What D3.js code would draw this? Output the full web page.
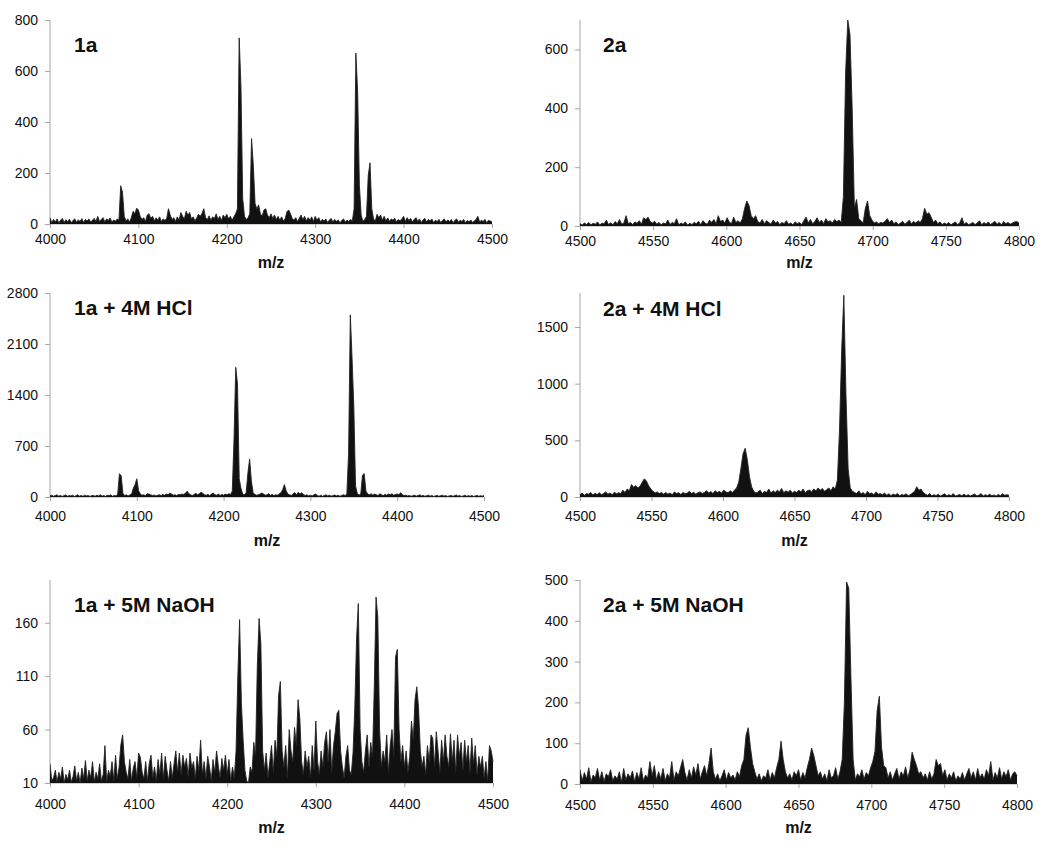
<!DOCTYPE html>
<html><head><meta charset="utf-8">
<script src="https://cdn.jsdelivr.net/npm/d3@7/dist/d3.min.js"></script>
<style>
body{margin:0;background:#fff}
text{font-family:"Liberation Sans",Arial,Helvetica,sans-serif;fill:#111}
</style>
</head><body>
<svg id="chart" width="1050" height="851"></svg>
<script>
// ---- data ----
// left column: m/z 4000..4500 sampled every 2; right column: m/z 4500..4800 sampled every 1.5
const leftStart = 4000, leftStep = 2;
const rightStart = 4500, rightStep = 1.5;
const leftXTicks = [4000, 4100, 4200, 4300, 4400, 4500];
const rightXTicks = [4500, 4550, 4600, 4650, 4700, 4750, 4800];
const ticks1a = [0, 200, 400, 600, 800];
const ticks2a = [0, 200, 400, 600];
const ticks1aHCl = [0, 700, 1400, 2100, 2800];
const ticks2aHCl = [0, 500, 1000, 1500];
const ticks1aNaOH = [10, 60, 110, 160];
const ticks2aNaOH = [0, 100, 200, 300, 400, 500];

const int1a = [
25,5,18,8,20,4,15,22,6,17,9,19,5,14,20,7,16,10,21,6,18,12,20,8,15,
22,10,30,9,18,25,8,20,14,24,7,16,11,20,15,150,125,30,12,20,8,25,50,40,62,
55,30,18,25,10,35,40,22,30,12,24,15,28,10,20,14,22,60,35,18,25,10,28,15,45,
30,20,50,35,45,20,28,12,25,38,30,42,60,25,18,32,15,28,22,40,18,30,14,35,25,
38,20,30,15,28,40,60,730,540,100,30,18,25,40,335,230,80,60,75,40,30,55,60,35,25,
40,22,35,18,30,15,28,12,20,48,55,40,22,15,25,10,22,35,18,30,12,25,15,28,10,
30,15,25,8,18,12,20,6,15,22,8,18,10,16,5,14,20,8,15,10,18,12,60,670,520,
150,35,10,18,30,190,240,60,20,12,38,25,35,15,30,12,24,10,20,15,22,8,18,12,20,
30,10,25,14,22,8,18,25,10,20,6,16,22,8,18,12,20,5,15,10,18,6,14,20,8,
16,10,18,5,14,20,7,15,10,18,4,14,9,16,6,12,18,30,8,15,10,18,5,14,12,
8];

const int1aHCl = [
15,25,10,20,30,12,22,8,18,28,10,20,14,25,8,18,30,12,22,10,25,15,20,8,18,
22,10,25,15,30,12,20,8,25,18,30,10,22,15,40,320,290,50,20,30,15,28,40,120,170,
250,90,40,25,30,20,45,40,30,20,28,15,25,30,20,35,25,40,30,55,40,25,30,20,35,
30,40,35,50,80,45,30,20,35,50,30,45,65,50,30,25,35,20,40,55,30,25,40,20,35,
25,40,30,45,35,80,800,1780,1550,250,120,40,30,60,330,520,220,60,35,25,30,40,55,40,25,
30,45,25,35,20,30,25,40,60,100,170,90,40,30,20,45,60,30,65,40,60,35,20,30,15,
25,15,30,40,20,12,25,10,20,30,15,25,12,20,28,15,25,10,22,30,20,40,600,2500,1900,
1250,150,50,25,40,300,320,80,40,30,45,25,40,30,20,45,30,20,35,25,40,30,45,25,35,
40,30,60,30,20,25,15,20,10,18,25,12,20,30,15,22,10,18,25,12,20,8,15,22,10,
18,25,12,20,8,15,22,10,18,28,12,20,8,15,25,10,18,12,20,8,15,22,10,18,12,
20];

const int1aNaOH = [
28,12,15,22,11,20,14,25,10,18,13,22,11,16,26,12,20,10,24,14,31,12,22,15,30,
11,20,14,28,12,18,45,11,22,16,30,12,36,14,25,46,55,30,20,14,32,12,24,30,15,
38,34,20,14,30,12,28,36,15,25,12,32,18,38,14,35,22,12,30,15,28,40,20,38,18,
36,25,33,16,38,24,30,14,35,22,50,18,30,14,35,25,12,32,20,40,26,15,33,22,36,
18,32,12,25,15,40,110,163,85,50,22,12,10,25,20,48,36,120,164,140,40,22,38,15,30,
45,20,50,35,92,105,40,25,45,15,60,40,30,62,45,88,70,30,18,40,25,35,15,45,22,
68,30,18,40,25,48,58,30,60,20,45,58,75,78,40,25,15,35,45,22,18,38,80,145,178,
60,30,20,40,55,25,48,35,100,184,165,60,25,40,30,55,20,45,60,35,128,135,60,30,45,
25,40,20,35,68,50,88,100,80,40,25,35,18,45,30,55,52,25,58,40,20,50,30,55,35,
25,56,30,50,20,55,35,48,22,50,30,45,20,52,28,45,18,35,25,35,15,30,12,45,40,
30];

const int2a = [
8,3,10,5,12,4,9,6,14,3,10,7,20,5,11,4,15,8,22,6,
10,35,8,12,5,14,9,18,6,28,22,30,15,10,16,6,12,4,10,7,
20,5,12,8,25,4,10,6,14,3,9,5,12,8,16,4,18,10,6,20,
12,22,8,35,15,20,10,28,14,8,30,12,18,10,25,60,85,70,35,25,
35,15,10,22,8,18,12,6,20,10,15,5,12,8,18,6,10,4,14,8,
12,5,18,30,10,22,8,15,28,12,20,8,25,14,18,10,22,15,20,12,
100,520,700,650,400,60,90,25,18,10,60,85,35,20,10,14,8,12,10,16,
25,12,20,8,14,5,10,16,6,12,20,8,15,10,18,12,25,60,40,45,
30,12,20,8,14,5,10,6,12,4,9,14,5,10,28,6,12,4,8,12,
5,10,18,4,12,6,14,5,10,16,6,12,4,15,8,12,6,10,14,15,
10];

const int2aHCl = [
20,35,15,30,25,40,18,32,22,38,20,30,45,25,35,20,42,28,38,30,
60,40,70,55,110,85,100,80,95,130,160,140,100,70,50,35,45,30,40,25,
40,25,35,20,45,30,38,22,40,28,35,50,30,42,25,38,45,30,40,55,
35,48,30,55,40,50,35,60,45,38,55,40,60,80,130,250,380,430,330,180,
90,50,35,45,60,30,50,40,70,35,55,40,60,45,75,38,55,42,60,35,
50,40,60,45,70,38,55,62,45,70,55,80,60,75,50,65,80,55,90,70,
150,600,1300,1780,900,250,80,50,40,30,55,25,40,20,50,30,35,20,45,25,
30,20,35,15,28,12,25,18,30,10,22,15,28,12,20,35,50,90,60,70,
40,25,15,30,10,20,12,25,8,18,28,10,20,12,30,8,15,22,10,25,
12,20,8,18,25,10,15,30,8,20,12,25,10,18,8,22,12,28,15,20,
15];

const int2aNaOH = [
35,8,28,12,40,5,22,15,38,10,30,6,25,18,35,8,20,12,30,5,
38,10,25,15,32,6,28,12,40,8,22,15,55,20,45,10,30,12,38,8,
25,15,55,10,30,20,40,60,28,10,35,15,42,22,50,12,30,45,20,50,
88,30,12,25,8,20,35,10,28,15,22,10,30,18,45,60,120,138,90,50,
30,12,25,8,20,15,35,10,28,15,40,60,105,60,30,15,25,10,30,20,
35,10,28,15,40,60,88,70,45,20,30,12,25,8,35,15,20,40,12,30,
60,200,495,480,260,60,10,25,18,35,12,28,20,40,55,80,180,215,90,45,
40,15,30,10,25,38,12,30,20,42,15,35,78,60,45,25,30,15,25,10,
30,12,25,60,45,50,20,35,10,25,15,30,8,20,12,28,10,25,38,15,
30,10,38,15,25,12,35,20,55,10,28,15,40,12,30,18,35,10,25,30,
20];

// ---- layout ----
const panels = [
  {label:"1a", data:int1a, start:leftStart, step:leftStep, xDom:[4000,4500], xTicks:leftXTicks,
   yDom:[0,800], yTicks:ticks1a, x0:50, x1:492, y0:20, y1:224, tickDy:17, mzY:268, labelX:74, labelY:52},
  {label:"2a", data:int2a, start:rightStart, step:rightStep, xDom:[4500,4800], xTicks:rightXTicks,
   yDom:[0,700], yTicks:ticks2a, x0:580, x1:1019, y0:20, y1:226, tickDy:17, mzY:268, labelX:603, labelY:52},
  {label:"1a + 4M HCl", data:int1aHCl, start:leftStart, step:leftStep, xDom:[4000,4500], xTicks:leftXTicks,
   yDom:[0,2800], yTicks:ticks1aHCl, x0:50, x1:484, y0:293, y1:497, tickDy:21, mzY:546, labelX:74, labelY:315},
  {label:"2a + 4M HCl", data:int2aHCl, start:rightStart, step:rightStep, xDom:[4500,4800], xTicks:rightXTicks,
   yDom:[0,1800], yTicks:ticks2aHCl, x0:580, x1:1009, y0:293, y1:497, tickDy:21, mzY:546, labelX:603, labelY:316},
  {label:"1a + 5M NaOH", data:int1aNaOH, start:leftStart, step:leftStep, xDom:[4000,4500], xTicks:leftXTicks,
   yDom:[10,200], yTicks:ticks1aNaOH, x0:50, x1:493, y0:580, y1:783, tickDy:23, mzY:833, labelX:74, labelY:612},
  {label:"2a + 5M NaOH", data:int2aNaOH, start:rightStart, step:rightStep, xDom:[4500,4800], xTicks:rightXTicks,
   yDom:[0,500], yTicks:ticks2aNaOH, x0:580, x1:1017, y0:580, y1:784, tickDy:23, mzY:833, labelX:603, labelY:612}
];

const svg = d3.select("#chart");
const axisColor = "#a6a6a6";

panels.forEach((p, k) => {
  const x = d3.scaleLinear().domain(p.xDom).range([p.x0, p.x1]);
  const y = d3.scaleLinear().domain(p.yDom).range([p.y1, p.y0]);
  const g = svg.append("g");

  g.append("clipPath").attr("id", "clip" + k)
    .append("rect").attr("x", p.x0).attr("y", p.y0 - 1)
    .attr("width", p.x1 - p.x0 + 1).attr("height", p.y1 - p.y0 + 1);

  // y axis
  const ya = g.append("g").attr("transform", `translate(${p.x0},0)`)
    .call(d3.axisLeft(y).tickValues(p.yTicks).tickSize(5).tickPadding(7).tickFormat(d3.format("d")));
  ya.select(".domain").attr("stroke", axisColor).attr("d", `M-0,${p.y1}V${p.y0}`);
  ya.selectAll(".tick line").attr("stroke", axisColor);
  ya.selectAll(".tick text").attr("font-size", 14).attr("fill", "#111")
    .style("font-family", '"Liberation Sans", Arial, sans-serif');

  // x axis
  const xa = g.append("g").attr("transform", `translate(0,${p.y1})`)
    .call(d3.axisBottom(x).tickValues(p.xTicks).tickSize(4).tickPadding(p.tickDy - 11).tickFormat(d3.format("d")));
  xa.select(".domain").attr("stroke", axisColor).attr("d", `M${p.x0},0H${p.x1}`);
  xa.selectAll(".tick line").attr("stroke", axisColor);
  xa.selectAll(".tick text").attr("font-size", 14).attr("fill", "#111")
    .style("font-family", '"Liberation Sans", Arial, sans-serif');

  // spectrum: dense trace rendered as filled area plus outline
  const xs = (d, i) => x(p.start + i * p.step);
  const ys = d => y(Math.max(d, p.yDom[0]));
  const area = d3.area().x(xs).y0(y(p.yDom[0])).y1(ys);
  const line = d3.line().x(xs).y(ys);
  g.append("path").datum(p.data)
    .attr("clip-path", `url(#clip${k})`)
    .attr("fill", "#111").attr("stroke", "none").attr("d", area);
  g.append("path").datum(p.data)
    .attr("clip-path", `url(#clip${k})`)
    .attr("fill", "none").attr("stroke", "#222").attr("stroke-width", 0.9)
    .attr("d", line);

  // panel label
  g.append("text").attr("x", p.labelX).attr("y", p.labelY)
    .attr("font-size", 21).attr("font-weight", "bold").text(p.label);

  // x title
  g.append("text").attr("x", (p.x0 + p.x1) / 2).attr("y", p.mzY)
    .attr("text-anchor", "middle").attr("font-size", 16).attr("font-weight", "bold").text("m/z");
});
</script>
</body></html>
